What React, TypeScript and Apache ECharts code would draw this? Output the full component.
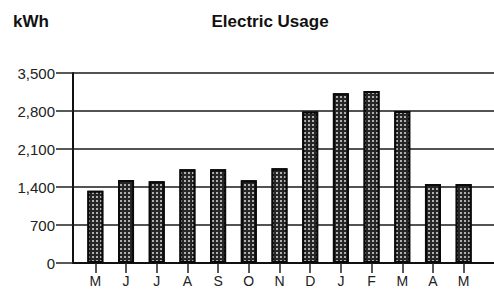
import React, { useEffect, useRef } from "react";
import * as echarts from "echarts";

const months = ["M", "J", "J", "A", "S", "O", "N", "D", "J", "F", "M", "A", "M"];
const usage = [1330, 1530, 1505, 1725, 1725, 1525, 1745, 2790, 3125, 3170, 2800, 1455, 1455];
const yTicks = [0, 700, 1400, 2100, 2800, 3500];

export default function App() {
  const ref = useRef<HTMLDivElement>(null);
  useEffect(() => {
    if (!ref.current) return;
    const chart = echarts.init(ref.current, null, { renderer: "svg" });
    const font = "Liberation Sans, Arial, sans-serif";
    chart.setOption({
      animation: false,
      backgroundColor: "#fff",
      title: [
        {
          text: "Electric Usage",
          left: 265,
          top: 8,
          textAlign: "center",
          textStyle: { fontFamily: font, fontSize: 17, fontWeight: "bold", color: "#111" },
        },
        {
          text: "kWh",
          left: 8,
          top: 8,
          textStyle: { fontFamily: font, fontSize: 17, fontWeight: "bold", color: "#111" },
        },
      ],
      grid: [
        { left: 73, right: 0, top: 73, bottom: 28, outerBoundsMode: "none", containLabel: false },
        { left: 80, right: 15, top: 73, bottom: 28, outerBoundsMode: "none", containLabel: false },
      ],
      xAxis: [
        {
          gridIndex: 0,
          type: "category",
          data: months,
          axisLine: { show: true, lineStyle: { color: "#111", width: 2 } },
          axisTick: { show: false },
          axisLabel: { show: false },
        },
        {
          gridIndex: 1,
          type: "category",
          data: months,
          axisLine: { show: false },
          axisTick: { show: true, alignWithLabel: true, length: 10, lineStyle: { color: "#222", width: 1.5 } },
          axisLabel: { fontFamily: font, fontSize: 14, color: "#222", margin: 11 },
        },
      ],
      yAxis: [
        {
          gridIndex: 0,
          type: "value",
          min: 0,
          max: 3500,
          interval: 700,
          axisLine: { show: true, lineStyle: { color: "#111", width: 2 } },
          axisTick: { show: true, length: 17, lineStyle: { color: "#222", width: 1.5 } },
          axisLabel: {
            fontFamily: font,
            fontSize: 15,
            color: "#222",
            margin: 18,
            padding: [0, 0, 4, 0],
            formatter: (v: number) => (yTicks.includes(v) ? v.toLocaleString("en-US") : ""),
          },
          splitLine: { show: true, lineStyle: { color: "#1a1a1a", width: 1.5 } },
        },
        {
          gridIndex: 1,
          type: "value",
          min: 0,
          max: 3500,
          interval: 700,
          show: false,
          splitLine: { show: false },
        },
      ],
      series: [
        {
          type: "bar",
          xAxisIndex: 1,
          yAxisIndex: 1,
          data: usage,
          barWidth: 16,
          itemStyle: {
            color: "#262626",
            borderColor: "#0a0a0a",
            borderWidth: 2,
            decal: {
              symbol: "rect",
              symbolSize: 1,
              color: "#b0b0b0",
              dashArrayX: [1.2, 1.8],
              dashArrayY: [1.2, 1.8],
              rotation: 0,
            },
          },
        },
      ],
    });
    return () => chart.dispose();
  }, []);
  return <div ref={ref} style={{ width: 494, height: 291, position: "absolute", left: 0, top: 0 }} />;
}
